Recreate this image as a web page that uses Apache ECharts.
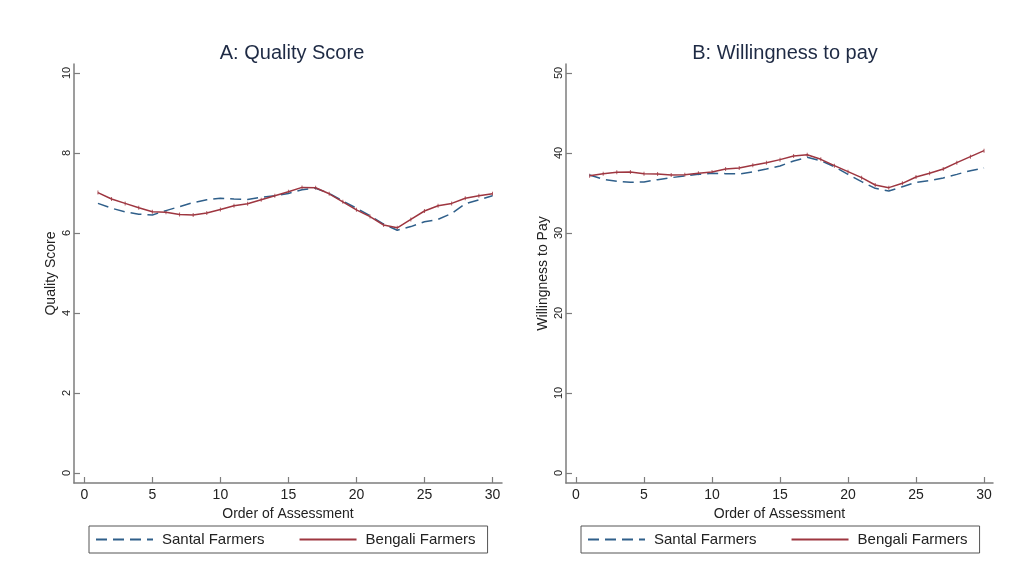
<!DOCTYPE html>
<html>
<head>
<meta charset="utf-8">
<script src="https://cdn.jsdelivr.net/npm/echarts@6/dist/echarts.min.js"></script>
<style>
  html, body { margin: 0; padding: 0; background: #fff; }
  #chart { width: 1009px; height: 576px; }
</style>
</head>
<body>
<div id="chart"></div>
<script>
// Order of assessment (1..30)
const order = Array.from({ length: 30 }, (_, i) => i + 1);

// Panel A: mean quality score by order of assessment
const qualitySantal = [6.74, 6.62, 6.53, 6.47, 6.45, 6.56, 6.66, 6.76, 6.83, 6.87,
                       6.85, 6.84, 6.89, 6.93, 6.99, 7.08, 7.12, 6.99, 6.80, 6.62,
                       6.43, 6.22, 6.07, 6.16, 6.28, 6.34, 6.49, 6.73, 6.83, 6.93];
const qualityBengali = [7.01, 6.85, 6.74, 6.63, 6.53, 6.52, 6.46, 6.45, 6.50, 6.59,
                        6.68, 6.73, 6.83, 6.93, 7.03, 7.14, 7.13, 6.98, 6.78, 6.58,
                        6.41, 6.20, 6.13, 6.34, 6.55, 6.68, 6.74, 6.87, 6.93, 6.98];

// Panel B: mean willingness to pay by order of assessment
const wtpSantal = [37.25, 36.71, 36.46, 36.33, 36.38, 36.67, 36.92, 37.13, 37.33, 37.46,
                   37.42, 37.38, 37.63, 38.00, 38.38, 39.00, 39.46, 39.04, 38.29, 37.33,
                   36.42, 35.58, 35.25, 35.79, 36.33, 36.54, 36.88, 37.33, 37.79, 38.13];
const wtpBengali = [37.17, 37.42, 37.58, 37.62, 37.42, 37.38, 37.25, 37.29, 37.46, 37.63,
                    38.00, 38.13, 38.46, 38.79, 39.17, 39.63, 39.79, 39.21, 38.42, 37.67,
                    36.92, 36.00, 35.67, 36.21, 37.00, 37.46, 38.00, 38.79, 39.54, 40.29];

const xTicks = [0, 5, 10, 15, 20, 25, 30];
const qualityTicks = [0, 2, 4, 6, 8, 10];
const wtpTicks = [0, 10, 20, 30, 40, 50];

const seriesNames = ['Santal Farmers', 'Bengali Farmers'];
const titles = ['A: Quality Score', 'B: Willingness to pay'];
const yNames = ['Quality Score', 'Willingness to Pay'];
const xName = 'Order of Assessment';

const BLUE = '#2f5f8a';
const RED = '#9e3640';
const AXIS = '#7d7d7d';
const FONT = 'Liberation Sans, Arial, sans-serif';

const pair = (ys) => order.map((x, i) => [x, ys[i]]);

function xAxis(gridIndex, min, max) {
  return {
    type: 'value', gridIndex, min, max,
    name: xName, nameLocation: 'middle', nameGap: 21,
    nameTextStyle: { fontSize: 14, color: '#222', fontFamily: FONT },
    axisLine: { show: true, onZero: false, lineStyle: { color: AXIS, width: 1.5 } },
    axisTick: { show: true, inside: true, length: 6, customValues: xTicks, lineStyle: { color: AXIS, width: 1.2 } },
    axisLabel: { customValues: xTicks, margin: 5, fontSize: 14, color: '#222', fontFamily: FONT },
    splitLine: { show: false }
  };
}

function yAxis(gridIndex, min, max, ticks, name) {
  return {
    type: 'value', gridIndex, min, max,
    name, nameLocation: 'middle', nameGap: 16,
    nameTextStyle: { fontSize: 14, color: '#222', fontFamily: FONT },
    axisLine: { show: true, onZero: false, lineStyle: { color: AXIS, width: 1.5 } },
    axisTick: { show: true, inside: true, length: 6, customValues: ticks, lineStyle: { color: AXIS, width: 1.2 } },
    axisLabel: { customValues: ticks, rotate: 90, margin: 2, fontSize: 11, color: '#222', fontFamily: FONT },
    splitLine: { show: false }
  };
}

function lineSeries(name, data, idx, color, dashed) {
  return {
    type: 'line', name, data, xAxisIndex: idx, yAxisIndex: idx,
    symbol: 'none', smooth: false, animation: false,
    lineStyle: { color, width: 1.5, type: dashed ? [11, 6] : 'solid' },
    itemStyle: { color }
  };
}

// short vertical caps drawn at each observation
function capSeries(data, idx, color, h) {
  return {
    type: 'scatter', name: 'caps', data, xAxisIndex: idx, yAxisIndex: idx,
    symbol: 'rect', symbolSize: [1, h], animation: false, silent: true,
    itemStyle: { color, opacity: 0.8 }
  };
}

function legend(left) {
  return {
    left, top: 526,
    data: seriesNames,
    orient: 'horizontal',
    itemWidth: 57, itemHeight: 14, itemGap: 34,
    padding: [6, 12, 6, 6],
    borderColor: '#555', borderWidth: 1, borderRadius: 0,
    itemStyle: { opacity: 0 },
    textStyle: { fontSize: 15, color: '#222', fontFamily: FONT, padding: [0, 0, 0, 4] },
    selectedMode: false
  };
}

const chart = echarts.init(document.getElementById('chart'), null, { renderer: 'canvas' });
chart.setOption({
  backgroundColor: '#fff',
  animation: false,
  title: [
    { text: titles[0], left: 287, top: 38, textAlign: 'center',
      textStyle: { fontSize: 20, fontWeight: 'normal', color: '#1e2a44', fontFamily: FONT } },
    { text: titles[1], left: 780, top: 38, textAlign: 'center',
      textStyle: { fontSize: 20, fontWeight: 'normal', color: '#1e2a44', fontFamily: FONT } }
  ],
  legend: [legend(89), legend(581)],
  grid: [
    { left: 74, right: 507, top: 64, bottom: 93 },
    { left: 566, right: 16, top: 64, bottom: 93 }
  ],
  xAxis: [xAxis(0, -0.76, 30.7), xAxis(1, -0.735, 30.66)],
  yAxis: [
    yAxis(0, -0.25, 10.225, qualityTicks, yNames[0]),
    yAxis(1, -1.25, 51.125, wtpTicks, yNames[1])
  ],
  series: [
    lineSeries(seriesNames[0], pair(qualitySantal), 0, BLUE, true),
    lineSeries(seriesNames[1], pair(qualityBengali), 0, RED, false),
    capSeries(pair(qualityBengali), 0, RED, 4),
    lineSeries(seriesNames[0], pair(wtpSantal), 1, BLUE, true),
    lineSeries(seriesNames[1], pair(wtpBengali), 1, RED, false),
    capSeries(pair(wtpBengali), 1, RED, 4)
  ]
});
</script>
</body>
</html>
